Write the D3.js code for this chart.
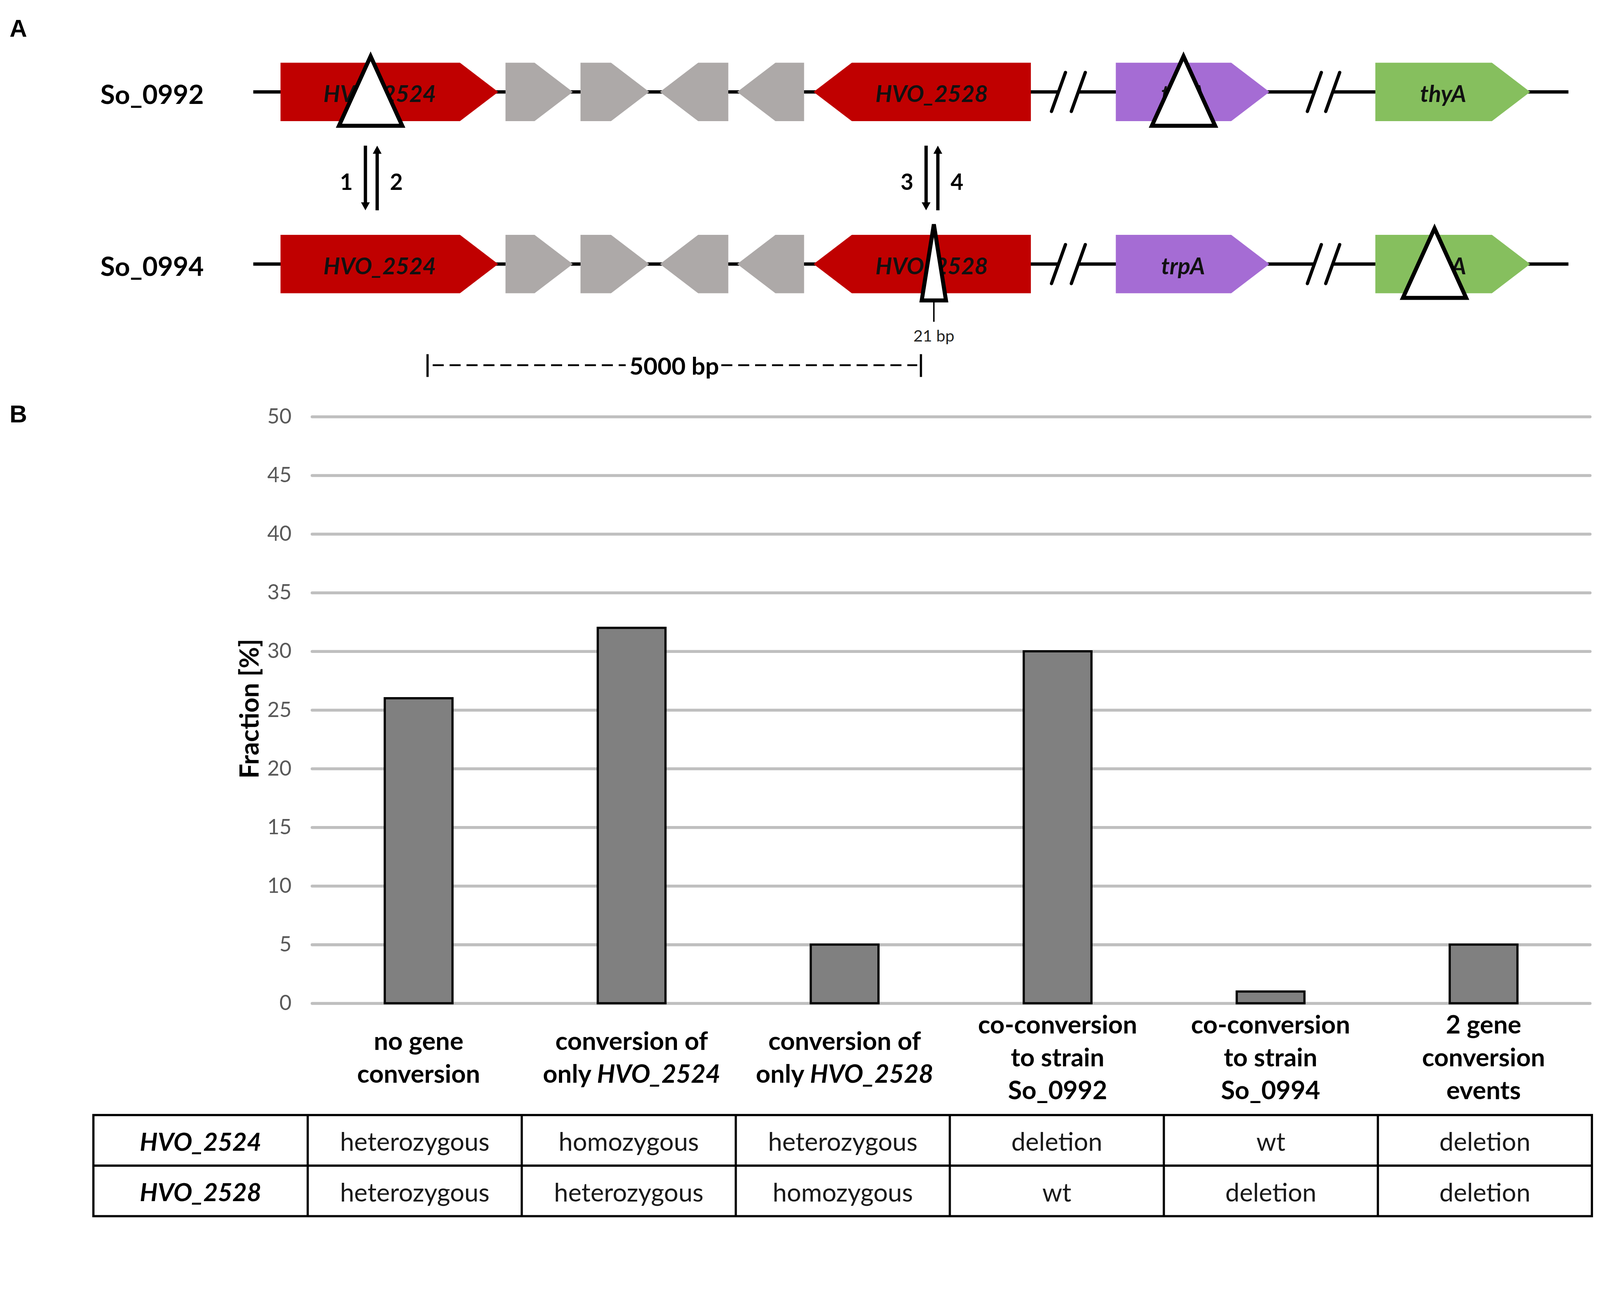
<!DOCTYPE html>
<html>
<head>
<meta charset="utf-8">
<script src="https://cdn.jsdelivr.net/npm/d3@7/dist/d3.min.js"></script>
<style>
  html, body { margin: 0; padding: 0; background: #fff; overflow: hidden; }
  #fig { display: block; width: 100vw; height: 100vh; }
  text { font-family: Lato, "Open Sans", sans-serif; }
</style>
</head>
<body>
<svg id="fig" viewBox="0 0 4352 3327" preserveAspectRatio="xMinYMin meet"></svg>
<script>
/*jslint browser: true*/

// ---- panel A: schematic positions in bp, origin at start of HVO_2524
var strains = ['So_0992', 'So_0994'];
var geneNames = ['HVO_2524', '', '', '', '', 'HVO_2528', 'trpA', 'thyA'];
var geneStarts = [0, 2280, 3040, 3845, 4628, 5402, 8465, 11095];
var geneEnds = [2206, 2962, 3737, 4538, 5306, 7604, 10022, 12664];
var geneStrands = [1, 1, 1, -1, -1, -1, 1, 1];
var geneColors = ['#c00000', '#ada9a8', '#ada9a8', '#ada9a8', '#ada9a8', '#c00000', '#a56cd4', '#86bf5e'];
var lineSegments = [[-276, 7884], [8085, 10477], [10663, 13052]];
var breakPoints = [7884, 8085, 10477, 10663];
var markerStrains = ['So_0992', 'So_0992', 'So_0994', 'So_0994'];
var markerPos = [913, 9151, 11695, 6621];
var markerKinds = ['deletion', 'deletion', 'deletion', 'insertion'];
var markerLabels = ['', '', '', '21 bp'];
var conversionPos = [920, 6602];
var conversionLabels = [['1', '2'], ['3', '4']];
var scaleBarBp = [1490, 6490];
var scaleBarLabel = '5000 bp';

// ---- panel B
var categories = [
    ['no gene', 'conversion'],
    ['conversion of', 'only *HVO_2524*'],
    ['conversion of', 'only *HVO_2528*'],
    ['co-conversion', 'to strain', 'So_0992'],
    ['co-conversion', 'to strain', 'So_0994'],
    ['2 gene', 'conversion', 'events']
];
var fractions = [26, 32, 5, 30, 1, 5];
var yTicks = [0, 5, 10, 15, 20, 25, 30, 35, 40, 45, 50];
var tableGenes = ['HVO_2524', 'HVO_2528'];
var genotype2524 = ['heterozygous', 'homozygous', 'heterozygous', 'deletion', 'wt', 'deletion'];
var genotype2528 = ['heterozygous', 'heterozygous', 'homozygous', 'wt', 'deletion', 'deletion'];

(function (d3) {
    'use strict';

    var svg = d3.select('#fig');

    function richText(sel, str) {
        str.split('*').forEach(function (part, i) {
            if (part === '') { return; }
            sel.append('tspan')
                .style('font-style', i % 2 ? 'italic' : 'normal')
                .text(part);
        });
    }

    // panel letters
    svg.selectAll('.panel')
        .data([['A', 100], ['B', 1149]]).enter()
      .append('text')
        .attr('x', 26)
        .attr('y', function (d) { return d[1]; })
        .style('font-family', '"Liberation Sans", Arial, sans-serif')
        .style('font-weight', 'bold')
        .style('font-size', '66px')
        .text(function (d) { return d[0]; });

    // ================= panel A =================
    var xA = d3.scaleLinear().domain([0, 5000]).range([763, 2105]),
        yA = d3.scalePoint().domain(strains).range([250, 718]),
        geneH = 159,
        head = 104;

    var genes = geneNames.map(function (n, i) {
        return {name: n, start: geneStarts[i], end: geneEnds[i], strand: geneStrands[i], color: geneColors[i]};
    });

    function genePath(g, yc) {
        var x0 = xA(g.start), x1 = xA(g.end), h = geneH / 2;
        if (g.strand > 0) {
            return 'M' + x0 + ',' + (yc - h) + 'L' + (x1 - head) + ',' + (yc - h) + 'L' + x1 + ',' + yc +
                'L' + (x1 - head) + ',' + (yc + h) + 'L' + x0 + ',' + (yc + h) + 'Z';
        }
        return 'M' + x1 + ',' + (yc - h) + 'L' + (x0 + head) + ',' + (yc - h) + 'L' + x0 + ',' + yc +
            'L' + (x0 + head) + ',' + (yc + h) + 'L' + x1 + ',' + (yc + h) + 'Z';
    }

    var rows = svg.selectAll('.strain')
        .data(strains).enter()
      .append('g')
        .attr('class', 'strain');

    rows.append('text')
        .attr('x', 273)
        .attr('y', function (d) { return yA(d) + 4; })
        .attr('dominant-baseline', 'central')
        .style('font-weight', 'bold')
        .style('font-size', '72px')
        .text(function (d) { return d; });

    rows.each(function (s) {
        var g = d3.select(this), yc = yA(s);

        g.selectAll('.seg')
            .data(lineSegments).enter()
          .append('line')
            .attr('x1', function (d) { return xA(d[0]); })
            .attr('x2', function (d) { return xA(d[1]); })
            .attr('y1', yc).attr('y2', yc)
            .style('stroke', '#000')
            .style('stroke-width', 9);

        g.selectAll('.brk')
            .data(breakPoints).enter()
          .append('line')
            .attr('x1', function (d) { return xA(d) - 19; })
            .attr('x2', function (d) { return xA(d) + 19; })
            .attr('y1', yc + 53).attr('y2', yc - 53)
            .style('stroke', '#000')
            .style('stroke-width', 9)
            .style('stroke-linecap', 'round');

        g.selectAll('.gene')
            .data(genes).enter()
          .append('path')
            .attr('d', function (d) { return genePath(d, yc); })
            .style('fill', function (d) { return d.color; });

        g.selectAll('.glab')
            .data(genes.filter(function (d) { return d.name; })).enter()
          .append('text')
            .attr('x', function (d) { return (xA(d.start) + xA(d.end)) / 2 - d.strand * head / 4; })
            .attr('y', yc + 3)
            .attr('text-anchor', 'middle')
            .attr('dominant-baseline', 'central')
            .style('font-weight', 'bold')
            .style('font-style', 'italic')
            .style('font-size', '63px')
            .style('fill', '#111')
            .text(function (d) { return d.name; });
    });

    // deletion / insertion triangles
    markerPos.forEach(function (p, i) {
        var cx = xA(p), yc = yA(markerStrains[i]), w, top, bot;
        if (markerKinds[i] === 'deletion') {
            w = 86; top = yc - 97; bot = yc + 92;
        } else {
            w = 33; top = yc - 108; bot = yc + 99;
        }
        svg.append('path')
            .attr('d', 'M' + cx + ',' + top + 'L' + (cx + w) + ',' + bot + 'L' + (cx - w) + ',' + bot + 'Z')
            .style('fill', '#fff')
            .style('stroke', '#000')
            .style('stroke-width', 11)
            .style('stroke-linejoin', 'miter');
        if (markerLabels[i]) {
            svg.append('line')
                .attr('x1', cx).attr('x2', cx)
                .attr('y1', bot + 5).attr('y2', bot + 58)
                .style('stroke', '#000')
                .style('stroke-width', 4);
            svg.append('text')
                .attr('x', cx)
                .attr('y', bot + 95)
                .attr('text-anchor', 'middle')
                .attr('dominant-baseline', 'central')
                .style('font-size', '44px')
                .style('fill', '#222')
                .text(markerLabels[i]);
        }
    });

    // conversion arrows between the strains
    conversionPos.forEach(function (p, i) {
        var cx = xA(p), y0 = 396, y1 = 572, off = 16, ah = 22, aw = 12;
        var g = svg.append('g');
        g.append('line')
            .attr('x1', cx - off).attr('x2', cx - off)
            .attr('y1', y0).attr('y2', y1 - ah + 4)
            .style('stroke', '#000').style('stroke-width', 9);
        g.append('path')
            .attr('d', 'M' + (cx - off - aw) + ',' + (y1 - ah) + 'L' + (cx - off + aw) + ',' + (y1 - ah) +
                'L' + (cx - off) + ',' + y1 + 'Z')
            .style('fill', '#000');
        g.append('line')
            .attr('x1', cx + off).attr('x2', cx + off)
            .attr('y1', y0 + ah - 4).attr('y2', y1)
            .style('stroke', '#000').style('stroke-width', 9);
        g.append('path')
            .attr('d', 'M' + (cx + off - aw) + ',' + (y0 + ah) + 'L' + (cx + off + aw) + ',' + (y0 + ah) +
                'L' + (cx + off) + ',' + y0 + 'Z')
            .style('fill', '#000');
        g.selectAll('text')
            .data(conversionLabels[i]).enter()
          .append('text')
            .attr('x', function (d, j) { return cx + (j ? 68 : -68); })
            .attr('y', 493)
            .attr('text-anchor', 'middle')
            .attr('dominant-baseline', 'central')
            .style('font-weight', 'bold')
            .style('font-size', '60px')
            .text(function (d) { return d; });
    });

    // scale bar
    (function () {
        var xs = xA(scaleBarBp[0]), xe = xA(scaleBarBp[1]), xm = (xs + xe) / 2, yb = 993;
        [xs, xe].forEach(function (x) {
            svg.append('line')
                .attr('x1', x).attr('x2', x)
                .attr('y1', yb - 30).attr('y2', yb + 32)
                .style('stroke', '#000').style('stroke-width', 6);
        });
        [[xs + 14, xm - 132], [xm + 128, xe - 10]].forEach(function (s) {
            svg.append('line')
                .attr('x1', s[0]).attr('x2', s[1])
                .attr('y1', yb).attr('y2', yb)
                .style('stroke', '#000').style('stroke-width', 5)
                .style('stroke-dasharray', '30,16');
        });
        svg.append('text')
            .attr('x', xm)
            .attr('y', yb)
            .attr('text-anchor', 'middle')
            .attr('dominant-baseline', 'central')
            .style('font-weight', 'bold')
            .style('font-size', '66px')
            .text(scaleBarLabel);
    }());

    // ================= panel B =================
    var plotLeft = 849, plotRight = 4325;
    var x = d3.scaleBand()
            .domain(d3.range(categories.length))
            .range([plotLeft, plotRight])
            .paddingInner(0.682)
            .paddingOuter(0.341),
        y = d3.scaleLinear().domain([0, 50]).range([2728, 1133]);

    var yAxis = svg.append('g')
        .attr('transform', 'translate(' + plotLeft + ',0)')
        .call(d3.axisLeft(y).tickValues(yTicks).tickSize(-(plotRight - plotLeft)).tickPadding(56));
    yAxis.select('.domain').remove();
    yAxis.selectAll('.tick line')
        .style('stroke', '#bfbfbf')
        .style('stroke-width', 8)
        .style('stroke-linecap', 'round');
    yAxis.selectAll('.tick text')
        .style('font-family', 'Lato, sans-serif')
        .style('font-size', '57px')
        .style('fill', '#595959');

    svg.append('text')
        .attr('transform', 'translate(676,1927) rotate(-90)')
        .attr('text-anchor', 'middle')
        .attr('dominant-baseline', 'central')
        .style('font-weight', 'bold')
        .style('font-size', '71px')
        .text('Fraction [%]');

    svg.selectAll('.bar')
        .data(fractions).enter()
      .append('rect')
        .attr('class', 'bar')
        .attr('x', function (d, i) { return x(i); })
        .attr('width', x.bandwidth())
        .attr('y', function (d) { return y(d); })
        .attr('height', function (d) { return y(0) - y(d); })
        .style('fill', '#808080')
        .style('stroke', '#000')
        .style('stroke-width', 6);

    var lineGap = 89, labelMid = 2873;
    categories.forEach(function (lines, i) {
        var cx = x(i) + x.bandwidth() / 2,
            firstY = labelMid - (lines.length - 1) * lineGap / 2;
        lines.forEach(function (ln, j) {
            var t = svg.append('text')
                .attr('x', cx)
                .attr('y', firstY + j * lineGap)
                .attr('text-anchor', 'middle')
                .attr('dominant-baseline', 'central')
                .style('font-weight', 'bold')
                .style('font-size', '69px');
            richText(t, ln);
        });
    });

    // genotype table
    var tableLeft = 254, firstColRight = 837, tableRight = 4330;
    var tx = d3.scaleBand().domain(d3.range(categories.length)).range([firstColRight, tableRight]),
        ty = d3.scaleBand().domain(tableGenes).range([3032, 3307]);
    var tableRows = [genotype2524, genotype2528];

    var tbl = svg.append('g').attr('class', 'table');
    tbl.append('rect')
        .attr('x', tableLeft).attr('y', ty.range()[0])
        .attr('width', tableRight - tableLeft)
        .attr('height', ty.range()[1] - ty.range()[0])
        .style('fill', 'none').style('stroke', '#000').style('stroke-width', 6);
    tbl.append('line')
        .attr('x1', tableLeft).attr('x2', tableRight)
        .attr('y1', ty(tableGenes[1])).attr('y2', ty(tableGenes[1]))
        .style('stroke', '#000').style('stroke-width', 6);
    tbl.selectAll('.vline')
        .data(tx.domain()).enter()
      .append('line')
        .attr('x1', function (d) { return tx(d); })
        .attr('x2', function (d) { return tx(d); })
        .attr('y1', ty.range()[0]).attr('y2', ty.range()[1])
        .style('stroke', '#000').style('stroke-width', 6);

    tableGenes.forEach(function (gname, r) {
        var cy = ty(gname) + ty.bandwidth() / 2 + 2;
        tbl.append('text')
            .attr('x', (tableLeft + firstColRight) / 2)
            .attr('y', cy)
            .attr('text-anchor', 'middle')
            .attr('dominant-baseline', 'central')
            .style('font-weight', 'bold')
            .style('font-style', 'italic')
            .style('font-size', '68px')
            .text(gname);
        tbl.selectAll('.cell' + r)
            .data(tableRows[r]).enter()
          .append('text')
            .attr('x', function (d, i) { return tx(i) + tx.bandwidth() / 2; })
            .attr('y', cy)
            .attr('text-anchor', 'middle')
            .attr('dominant-baseline', 'central')
            .style('font-size', '69px')
            .style('fill', '#1a1a1a')
            .text(function (d) { return d; });
    });

}(window.d3));
</script>
</body>
</html>
